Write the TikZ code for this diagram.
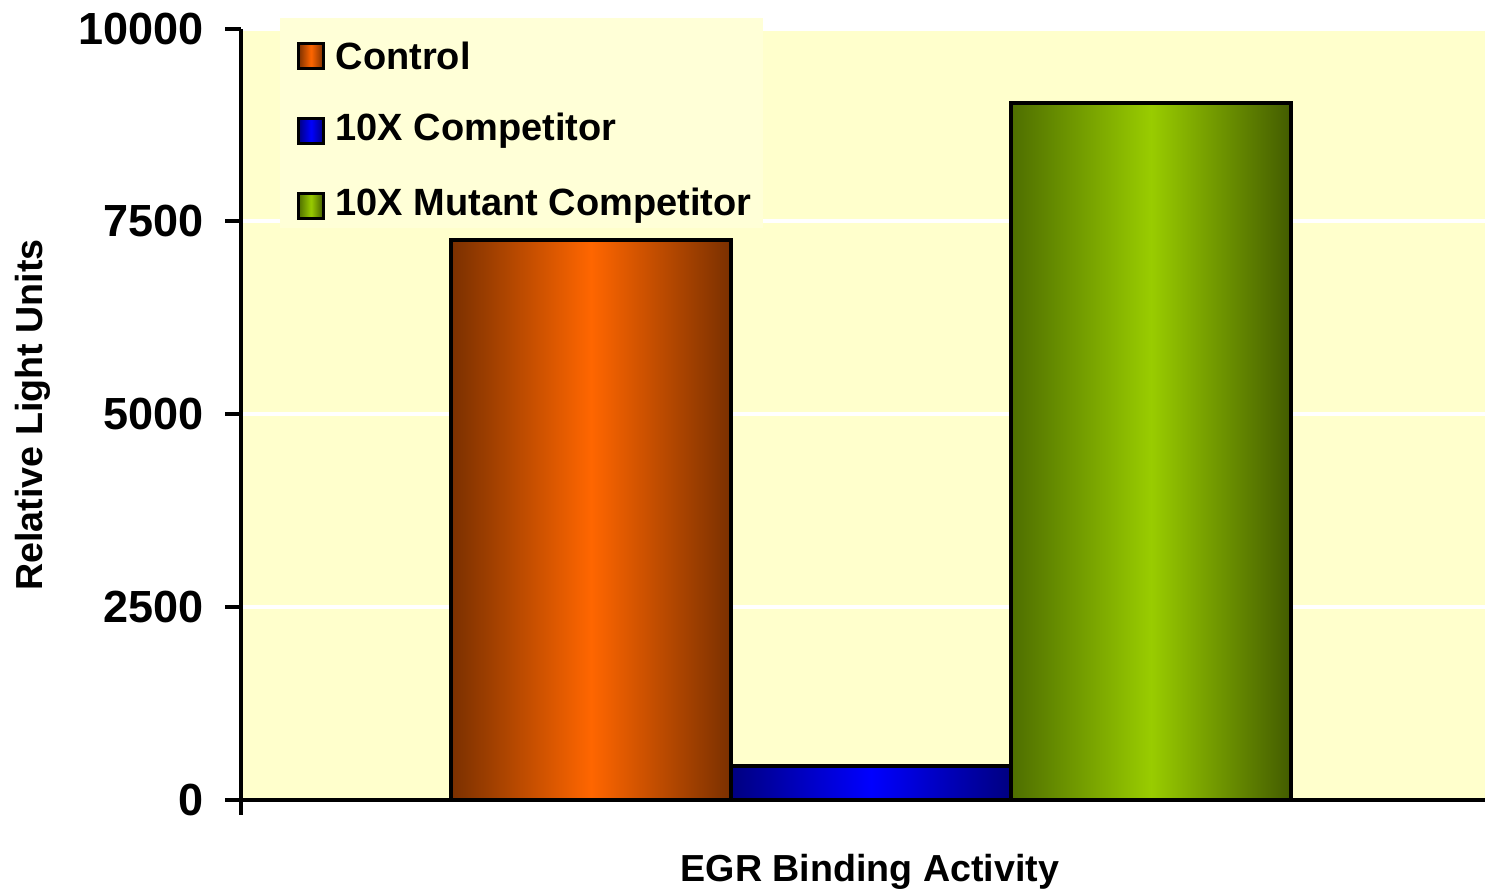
\documentclass[tikz,border=0pt]{standalone}
\usepackage{fontspec}
\setmainfont{Liberation Sans}
\usetikzlibrary{positioning}

\definecolor{plotbg}{HTML}{FFFFCC}
\definecolor{legendbg}{HTML}{FFFFD7}
\definecolor{ctrl-dark}{HTML}{7A3000}
\definecolor{ctrl-mid}{HTML}{FF6600}
\definecolor{comp-dark}{HTML}{000080}
\definecolor{comp-mid}{HTML}{0000FF}
\definecolor{mut-left}{HTML}{4E6E00}
\definecolor{mut-mid}{HTML}{99CC00}
\definecolor{mut-right}{HTML}{435C00}

\begin{document}
\begin{tikzpicture}[x=0.01cm, y=-0.01cm,
axis/.style={draw=black, line width=1.2pt},
grid-line/.style={draw=white, line width=1.1pt},
bar/.style={draw=black, line width=0.9pt},
ctrl-fill/.style={left color=ctrl-dark, right color=ctrl-dark, middle color=ctrl-mid},
comp-fill/.style={left color=comp-dark, right color=comp-dark, middle color=comp-mid},
mut-fill/.style={left color=mut-left, right color=mut-right, middle color=mut-mid},
tick-label/.style={anchor=east, inner sep=0pt, font=\fontsize{12.8}{14}\selectfont\bfseries},
axis-title/.style={inner sep=0pt, font=\fontsize{10.7}{12}\selectfont\bfseries},
legend-key/.style={rectangle, draw=black, line width=0.8pt, minimum size=0.25cm, inner sep=0pt},
legend-text/.style={inner sep=0pt, anchor=west, font=\fontsize{10.8}{12}\selectfont\bfseries}
]
\useasboundingbox (0,0) rectangle (1485,893);

% plot area and grid
\fill[plotbg] (243,31) rectangle (1485,800);
\foreach \y in {607,414,221}
  \draw[grid-line] (243,\y) -- (1485,\y);

% legend
\fill[legendbg] (280,18) rectangle (763,228);
\node[legend-key, ctrl-fill] (key-ctrl) at (311,56) {};
\node[legend-text, right=0.1cm of key-ctrl] (lbl-ctrl) {Control};
\node[legend-key, comp-fill] (key-comp) at (311,131) {};
\node[legend-text, right=0.1cm of key-comp] (lbl-comp) {10X Competitor};
\node[legend-key, mut-fill] (key-mut) at (311,206) {};
\node[legend-text, right=0.1cm of key-mut] (lbl-mut) {10X Mutant Competitor};

% bars
\draw[bar, ctrl-fill] (451,240) rectangle (731,800);
\draw[bar, comp-fill] (731,766) rectangle (1011,800);
\draw[bar, mut-fill] (1011,103) rectangle (1291,800);

% axes
\draw[axis] (241,29) -- (241,815);
\draw[axis] (225,800) -- (1485,800);
\foreach \y/\v in {800/0, 607/2500, 414/5000, 221/7500, 29/10000} {
  \draw[axis] (225,\y) -- (241,\y);
  \node[tick-label] (tick-\v) at (204,\y) {\v};
}

\node[axis-title, rotate=90] (y-title) at (33,415) {Relative Light Units};
\node[axis-title] (x-title) at (870,872) {EGR Binding Activity};
\end{tikzpicture}
\end{document}
